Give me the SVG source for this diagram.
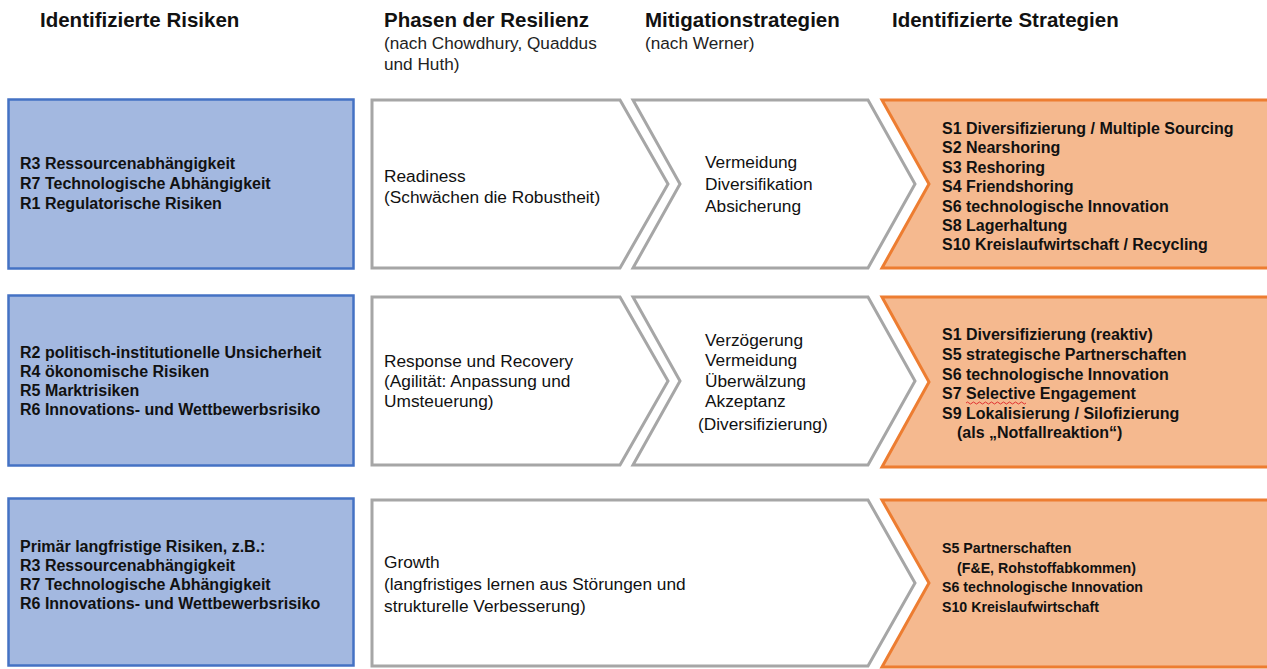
<svg xmlns="http://www.w3.org/2000/svg" width="1267" height="669" viewBox="0 0 1267 669">
<style>
.hd{font-family:"Liberation Sans",Arial,sans-serif;font-weight:bold;font-size:20.5px;fill:#111}
.sub{font-family:"Liberation Sans",Arial,sans-serif;font-size:17.2px;fill:#222}
.risk{fill:#A3B8E0;stroke:#4472C4;stroke-width:2.5}
.phase{fill:#fff;stroke:#A6A6A6;stroke-width:3;stroke-linejoin:miter}
.strat{fill:#F5B98F;stroke:#ED7D31;stroke-width:3}
.bt{font-family:"Liberation Sans",Arial,sans-serif;font-weight:bold;font-size:16px;fill:#111}
.bt3{font-family:"Liberation Sans",Arial,sans-serif;font-weight:bold;font-size:14.2px;fill:#111}
.rt{font-family:"Liberation Sans",Arial,sans-serif;font-size:17.3px;fill:#111}
</style>
<rect width="1267" height="669" fill="#fff"/>
<g id="headers">
<text class="hd" x="40" y="27">Identifizierte Risiken</text>
<text class="hd" x="384" y="27">Phasen der Resilienz</text>
<text class="sub" x="384" y="49">(nach Chowdhury, Quaddus</text>
<text class="sub" x="384" y="70">und Huth)</text>
<text class="hd" x="645" y="27">Mitigationstrategien</text>
<text class="sub" x="645" y="49">(nach Werner)</text>
<text class="hd" x="892" y="27">Identifizierte Strategien</text>
</g>
<g id="connectors"></g>
<!-- Row 1 -->
<g id="risk1">
<rect class="risk" x="8.5" y="99.5" width="345" height="169"/>
<text class="bt" x="20" y="169">R3 Ressourcenabhängigkeit</text>
<text class="bt" x="20" y="189">R7 Technologische Abhängigkeit</text>
<text class="bt" x="20" y="209">R1 Regulatorische Risiken</text>
</g>
<g id="phase1">
<polygon class="phase" points="372,100 620,100 668,184 620,268 372,268"/>
<text class="rt" x="384" y="182">Readiness</text>
<text class="rt" x="384" y="203">(Schwächen die Robustheit)</text>
</g>
<g id="mitig1">
<polygon class="phase" points="633,100 868,100 915,184 868,268 633,268 680,184"/>
<text class="rt" x="705" y="168">Vermeidung</text>
<text class="rt" x="705" y="190">Diversifikation</text>
<text class="rt" x="705" y="212">Absicherung</text>
</g>
<g id="strat1">
<polygon class="strat" points="882,100 1275,100 1275,268 882,268 929,184"/>
<text class="bt" x="942" y="134">S1 Diversifizierung / Multiple Sourcing</text>
<text class="bt" x="942" y="153">S2 Nearshoring</text>
<text class="bt" x="942" y="173">S3 Reshoring</text>
<text class="bt" x="942" y="192">S4 Friendshoring</text>
<text class="bt" x="942" y="212">S6 technologische Innovation</text>
<text class="bt" x="942" y="231">S8 Lagerhaltung</text>
<text class="bt" x="942" y="250">S10 Kreislaufwirtschaft / Recycling</text>
</g>
<!-- Row 2 -->
<g id="risk2">
<rect class="risk" x="8.5" y="295.5" width="345" height="170"/>
<text class="bt" x="20" y="358">R2 politisch-institutionelle Unsicherheit</text>
<text class="bt" x="20" y="377">R4 ökonomische Risiken</text>
<text class="bt" x="20" y="396">R5 Marktrisiken</text>
<text class="bt" x="20" y="415">R6 Innovations- und Wettbewerbsrisiko</text>
</g>
<g id="phase2">
<polygon class="phase" points="372,297 620,297 668,381 620,465 372,465"/>
<text class="rt" x="384" y="367">Response und Recovery</text>
<text class="rt" x="384" y="387">(Agilität: Anpassung und</text>
<text class="rt" x="384" y="407">Umsteuerung)</text>
</g>
<g id="mitig2">
<polygon class="phase" points="633,297 868,297 915,381 868,465 633,465 680,381"/>
<text class="rt" x="705" y="346">Verzögerung</text>
<text class="rt" x="705" y="366">Vermeidung</text>
<text class="rt" x="705" y="387">Überwälzung</text>
<text class="rt" x="705" y="407">Akzeptanz</text>
<text class="rt" x="698" y="430">(Diversifizierung)</text>
</g>
<g id="strat2">
<polygon class="strat" points="882,297 1275,297 1275,467 882,467 929,382"/>
<text class="bt" x="942" y="340">S1 Diversifizierung (reaktiv)</text>
<text class="bt" x="942" y="360">S5 strategische Partnerschaften</text>
<text class="bt" x="942" y="380">S6 technologische Innovation</text>
<text class="bt" x="942" y="399">S7 Selective Engagement</text>
<text class="bt" x="942" y="419">S9 Lokalisierung / Silofizierung</text>
<text class="bt" x="957" y="438">(als „Notfallreaktion“)</text>
<path d="M966,403 q1.5,-2 3,0 t3,0 t3,0 t3,0 t3,0 t3,0 t3,0 t3,0 t3,0 t3,0 t3,0 t3,0 t3,0 t3,0 t3,0 t3,0 t3,0 t3,0 t3,0 t3,0" fill="none" stroke="#E03030" stroke-width="1"/>
</g>
<!-- Row 3 -->
<g id="risk3">
<rect class="risk" x="8.5" y="498.5" width="345" height="167"/>
<text class="bt" x="20" y="552">Primär langfristige Risiken, z.B.:</text>
<text class="bt" x="20" y="571">R3 Ressourcenabhängigkeit</text>
<text class="bt" x="20" y="590">R7 Technologische Abhängigkeit</text>
<text class="bt" x="20" y="609">R6 Innovations- und Wettbewerbsrisiko</text>
</g>
<g id="phase3">
<polygon class="phase" points="372,500 868,500 915,583 868,666 372,666"/>
<text class="rt" x="384" y="568">Growth</text>
<text class="rt" x="384" y="590">(langfristiges lernen aus Störungen und</text>
<text class="rt" x="384" y="612">strukturelle Verbesserung)</text>
</g>
<g id="strat3">
<polygon class="strat" points="882,500 1275,500 1275,667 882,667 929,583"/>
<text class="bt3" x="942" y="553">S5 Partnerschaften</text>
<text class="bt3" x="957" y="573">(F&amp;E, Rohstoffabkommen)</text>
<text class="bt3" x="942" y="592">S6 technologische Innovation</text>
<text class="bt3" x="942" y="612">S10 Kreislaufwirtschaft</text>
</g>
</svg>
